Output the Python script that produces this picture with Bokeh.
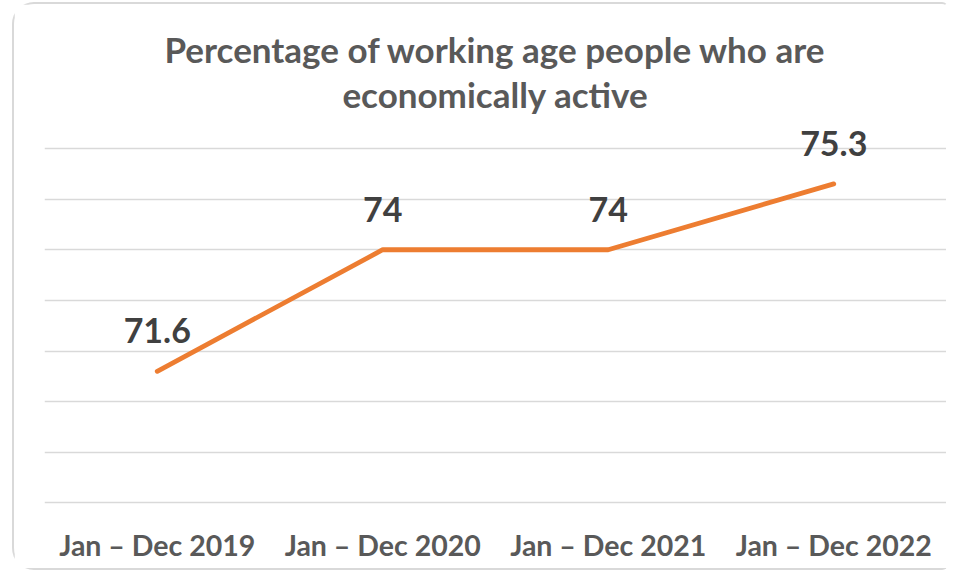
from bokeh.plotting import figure
from bokeh.models import FactorRange, Range1d, FixedTicker, Title, ColumnDataSource, LabelSet
from bokeh.core.properties import value
from bokeh.embed import file_html
from bokeh.resources import INLINE

categories = ["Jan – Dec 2019", "Jan – Dec 2020", "Jan – Dec 2021", "Jan – Dec 2022"]
values = [71.6, 74, 74, 75.3]
labels = ["71.6", "74", "74", "75.3"]
y_ticks = [69, 70, 71, 72, 73, 74, 75, 76]
title_lines = ["Percentage of working age people who are", "economically active"]

src = ColumnDataSource(dict(x=categories, y=values, t=labels))

p = figure(width=936, height=568, x_range=FactorRange(*categories, range_padding=0),
           y_range=Range1d(68.97, 76.65), output_backend="svg", toolbar_location=None,
           title=None, min_border_left=30, min_border_right=4,
           min_border_top=111, min_border_bottom=68,
           styles={"border": "2px solid #d9d9d9", "border-right-color": "transparent",
                   "border-radius": "22px 6px 6px 22px",
                   "margin-left": "12px", "margin-top": "2px"})
p.outline_line_color = None
p.background_fill_color = "white"
p.border_fill_color = "white"

for i, line in enumerate(reversed(title_lines)):
    t = Title(text=line, align="center", text_font="Lato", text_font_style="bold",
              text_font_size="35px", text_color="#595959", standoff=1)
    p.add_layout(t, "above")

p.yaxis.visible = False
p.ygrid.ticker = FixedTicker(ticks=y_ticks)
p.ygrid.grid_line_color = "#d9d9d9"
p.ygrid.grid_line_width = 1.5
p.xgrid.grid_line_color = None

p.xaxis.axis_line_color = None
p.xaxis.major_tick_line_color = None
p.xaxis.minor_tick_line_color = None
p.xaxis.major_label_text_font = "Lato"
p.xaxis.major_label_text_font_style = "bold"
p.xaxis.major_label_text_font_size = "28.5px"
p.xaxis.major_label_text_color = "#595959"
p.xaxis.major_label_standoff = 17

p.line("x", "y", source=src, line_color="#ED7D31", line_width=4.8,
       line_cap="round", line_join="round")

ls = LabelSet(x="x", y="y", text="t", source=src, text_align="center",
              text_baseline="alphabetic", y_offset=28, text_font=value("Lato"),
              text_font_style="bold", text_font_size="34px", text_color="#404040")
p.add_layout(ls)

open("out.html", "w").write(file_html(p, INLINE))
